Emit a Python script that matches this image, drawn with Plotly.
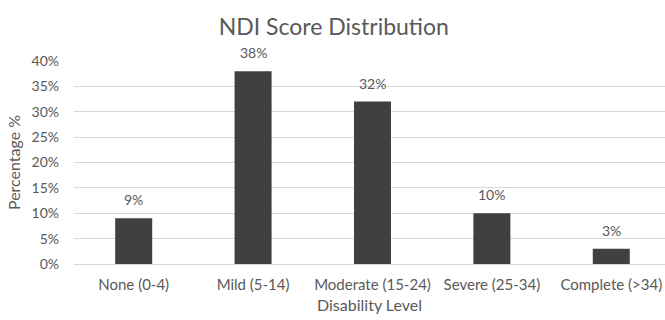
import plotly.graph_objects as go

categories = ["None (0-4)", "Mild (5-14)", "Moderate (15-24)", "Severe (25-34)", "Complete (>34)"]
percentages = [9, 38, 32, 10, 3]
y_ticks = [0, 5, 10, 15, 20, 25, 30, 35, 40]
y_tick_labels = [f"{t}%" for t in y_ticks]

FONT = "Lato, 'Open Sans', sans-serif"
TEXT = "#595959"

x_pos = list(range(len(categories)))

fig = go.Figure(
    go.Bar(
        x=x_pos,
        y=percentages,
        width=0.31,
        marker=dict(color="#404040", line=dict(width=0)),
        hoverinfo="skip",
    )
)

# value labels sitting above each bar
for xi, v in zip(x_pos, percentages):
    fig.add_annotation(
        x=xi, y=v, text=f"{v}%", showarrow=False,
        yanchor="bottom", yshift=8,
        font=dict(family=FONT, size=14, color=TEXT),
    )

fig.update_layout(
    width=665,
    height=320,
    margin=dict(l=74, r=0, t=61, b=56),
    paper_bgcolor="white",
    plot_bgcolor="white",
    showlegend=False,
    title=dict(
        text="NDI Score Distribution",
        x=0.502,
        xanchor="center",
        y=0.916,
        yanchor="middle",
        font=dict(family=FONT, size=23, color=TEXT),
    ),
    font=dict(family=FONT, size=14, color=TEXT),
)

fig.update_xaxes(
    tickmode="array",
    tickvals=x_pos,
    ticktext=categories,
    range=[-0.5, 4.45],
    showgrid=False,
    zeroline=False,
    showline=False,
    ticks="",
    ticklabelstandoff=10,
    tickfont=dict(family=FONT, size=15, color=TEXT),
    title=dict(text="Disability Level", font=dict(family=FONT, size=16, color=TEXT), standoff=7),
)

fig.update_yaxes(
    range=[0, 40],
    tickmode="array",
    tickvals=y_ticks,
    ticktext=y_tick_labels,
    showgrid=True,
    gridcolor="#d9d9d9",
    gridwidth=1,
    zeroline=True,
    zerolinecolor="#d9d9d9",
    zerolinewidth=1,
    ticks="",
    ticklabelstandoff=14,
    tickfont=dict(family=FONT, size=14, color=TEXT),
    title=dict(text="Percentage %", font=dict(family=FONT, size=16, color=TEXT), standoff=6),
)

fig.write_html("out.html")
